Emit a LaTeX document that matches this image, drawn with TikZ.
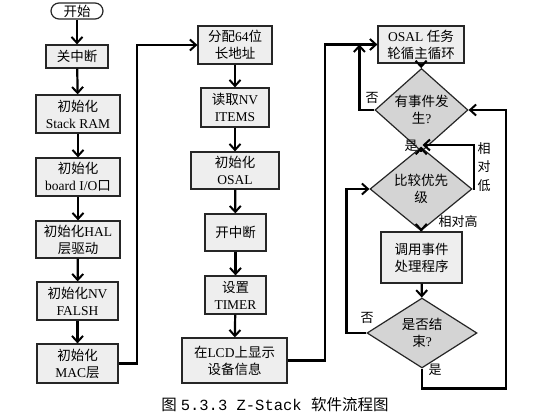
\documentclass[tikz,border=0pt]{standalone}
\usepackage{fontspec}
\setmainfont{Liberation Serif}
\newfontfamily\cjk{Noto Sans CJK SC}
\newfontfamily\capmono{Liberation Mono}
\usetikzlibrary{arrows.meta,shapes.geometric}
\newcommand\zh[1]{{\cjk #1}}
\definecolor{boxfill}{HTML}{EEEEEE}
\definecolor{diafill}{HTML}{D4D4D4}
\tikzset{
  base/.style={draw=black!85, line width=1.2pt, inner sep=0pt, align=center,
    font=\fontsize{13.5}{17}\selectfont},
  procbox/.style={base, rectangle, fill=boxfill},
  termbox/.style={base, rectangle, rounded corners=8pt, fill=white},
  decbox/.style={base, diamond, fill=diafill},
  arr/.style={line width=2.2pt, -{Straight Barb[length=6pt,width=11pt,line width=2pt]}},
  lab/.style={inner sep=0pt, font=\fontsize{13}{16}\selectfont\cjk}
}
\begin{document}
\begin{tikzpicture}[x=1pt,y=-1pt]
\useasboundingbox (0,0) rectangle (558,420);
% column 1
\node[termbox, minimum width=52, minimum height=16] (s) at (77,11) {\zh{开始}};
\node[procbox, minimum width=62, minimum height=23] (n1) at (77,56.5) {\zh{关中断}};
\node[procbox, minimum width=84, minimum height=38] (n2) at (78,114) {\zh{初始化}\\Stack RAM};
\node[procbox, minimum width=84, minimum height=38] (n3) at (78,177) {\zh{初始化}\\board I/O\zh{口}};
\node[procbox, minimum width=84, minimum height=37] (n4) at (78,239.5) {\zh{初始化}HAL\\\zh{层驱动}};
\node[procbox, minimum width=81, minimum height=38] (n5) at (77.5,301) {\zh{初始化}NV\\FALSH};
\node[procbox, minimum width=81, minimum height=39] (n6) at (77.5,363.5) {\zh{初始化}\\MAC\zh{层}};
% column 2
\node[procbox, minimum width=74, minimum height=38] (m1) at (235,45) {\zh{分配}64\zh{位}\\\zh{长地址}};
\node[procbox, minimum width=68, minimum height=39] (m2) at (235,107.5) {\zh{读取}NV\\ITEMS};
\node[procbox, minimum width=88, minimum height=37] (m3) at (235,170.5) {\zh{初始化}\\OSAL};
\node[procbox, minimum width=61, minimum height=37] (m4) at (235.5,232.5) {\zh{开中断}};
\node[procbox, minimum width=61, minimum height=38] (m5) at (235.5,295) {\zh{设置}\\TIMER};
\node[procbox, minimum width=105, minimum height=45] (m6) at (234.5,360.5) {\zh{在}LCD\zh{上显示}\\\zh{设备信息}};
% column 3
\node[procbox, minimum width=86, minimum height=37] (r1) at (421,44.5) {OSAL \zh{任务}\\\zh{轮循主循环}};
\node[decbox, minimum width=93, minimum height=52] (d1) at (421.5,110) {\zh{有事件发}\\\zh{生}?};
\node[decbox, minimum width=102, minimum height=58] (d2) at (421,189) {\zh{比较优先}\\\zh{级}};
\node[procbox, minimum width=81, minimum height=51] (r2) at (421.5,257.5) {\zh{调用事件}\\\zh{处理程序}};
\node[decbox, minimum width=110, minimum height=60] (d3) at (422,333) {\zh{是否结}\\\zh{束}?};
\coordinate (j1) at (422.5,145);
% arrows column 1
\draw[arr] (s) -- (n1);
\draw[arr] (n1) -- (n2);
\draw[arr] (n2) -- (n3);
\draw[arr] (n3) -- (n4);
\draw[arr] (n4) -- (n5);
\draw[arr] (n5) -- (n6);
\draw[arr] (n6.east) -- ++(18,0) |- (m1.west);
% column 2
\draw[arr] (m1) -- (m2);
\draw[arr] (m2) -- (m3);
\draw[arr] (m3) -- (m4);
\draw[arr] (m4) -- (m5);
\draw[arr] (m5) -- (m6);
\draw[arr] (m6.east) -- ++(37,0) |- (r1.west);
% column 3
\draw[arr] (r1) -- (d1);
\draw[arr] (d1.west) -| ([xshift=-18pt]r1.west);
\draw[arr] (d1) -- (d2);
\draw[arr] (d2.east) -- ++(1,0) |- (j1);
\draw[arr] (d2) -- (r2);
\draw[arr] (r2) -- (d3);
\draw[arr] (d3.west) -- ++(-20,0) |- (d2.west);
\draw[arr] (d3.south) -- ++(0,20) -- ++(84,0) |- (d1.east);
% labels
\node[lab] (l1) at (372,98) {否};
\node[lab] (l2) at (411,146) {是};
\node[lab, align=center, font=\fontsize{13}{18.5}\selectfont\cjk] (l3) at (484,167) {相\\对\\低};
\node[lab] (l4) at (458,222) {相对高};
\node[lab] (l5) at (367,318) {否};
\node[lab] (l6) at (435,370) {是};
% caption
\node[inner sep=0pt, font=\fontsize{15.5}{18}\selectfont] (cap) at (275,405) {\zh{图} \capmono 5.3.3 Z-Stack \zh{软件流程图}};
\end{tikzpicture}
\end{document}
